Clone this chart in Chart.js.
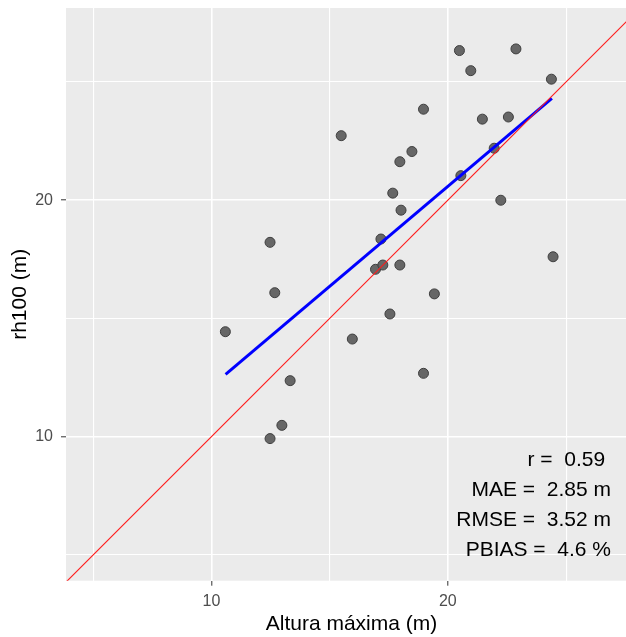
<!DOCTYPE html>
<html>
<head>
<meta charset="utf-8">
<script src="https://cdn.jsdelivr.net/npm/chart.js@4"></script>
<style>
  html, body { margin: 0; padding: 0; background: #fff; overflow: hidden; }
  #wrap { width: 637px; height: 637px; }
</style>
</head>
<body>
<div id="wrap"><canvas id="chart" width="637" height="637"></canvas></div>
<script>
// Observed max height (x) vs GEDI rh100 (y)
const alturaMaxima = [
    12.48, 12.68, 10.59, 13.33, 12.98, 12.48, 15.49, 18.48, 17.97, 17.67,
    18.02, 17.17, 16.94, 17.25, 17.97, 17.55, 19.43, 15.96, 18.97, 20.49,
    22.88, 20.97, 24.38, 21.46, 22.56, 21.96, 20.55, 18.97, 22.24, 24.45
];
const rh100 = [
    18.22, 16.09, 14.44, 12.37, 10.48, 9.92, 22.73, 22.06, 21.63, 20.30,
    19.58, 18.36, 17.08, 17.26, 17.26, 15.19, 16.04, 14.13, 12.68, 26.33,
    26.40, 25.48, 25.12, 23.43, 23.52, 22.20, 21.04, 23.85, 20.00, 17.61
];

// fitted line (ends) and 1:1 line
const fitX = [10.6, 24.4];
const fitY = [12.64, 24.31];
const oneToOne = [0, 40];

// axis ranges, gridlines, labelled ticks
const xRange = [3.85, 28.0];
const yRange = [3.91, 28.13];
const gridBreaks = [5, 10, 15, 20, 25];
const tickLabels = [10, 20];

const statsLines = ['r =  0.59 ', 'MAE =  2.85 m', 'RMSE =  3.52 m', 'PBIAS =  4.6 %'];

const FONT = '"Liberation Sans", Arial, sans-serif';

const panelBg = {
    id: 'panelBg',
    beforeDraw(chart) {
        const a = chart.chartArea;
        const ctx = chart.ctx;
        ctx.save();
        ctx.fillStyle = '#EBEBEB';
        ctx.fillRect(a.left, a.top, a.right - a.left, a.bottom - a.top);
        ctx.restore();
    }
};

const statsText = {
    id: 'statsText',
    afterDraw(chart) {
        const a = chart.chartArea;
        const ctx = chart.ctx;
        ctx.save();
        ctx.font = '21px ' + FONT;
        ctx.fillStyle = '#000';
        ctx.textAlign = 'right';
        ctx.textBaseline = 'alphabetic';
        statsLines.forEach((t, i) => {
            ctx.fillText(t, a.right - 26, a.bottom - 115 + i * 30.2);
        });
        ctx.restore();
    }
};

function gridOpts() {
    return {
        color: '#FFFFFF',
        lineWidth: c => tickLabels.includes(c.tick.value) ? 1.6 : 1.1,
        drawTicks: true,
        tickLength: 5,
        tickColor: c => tickLabels.includes(c.tick.value) ? '#333333' : 'rgba(0,0,0,0)',
        tickWidth: 1
    };
}

function tickOpts(pad) {
    return {
        color: '#4D4D4D',
        font: { family: FONT, size: 16 },
        padding: pad,
        maxRotation: 0,
        autoSkip: false,
        includeBounds: false,
        callback: v => tickLabels.includes(v) ? String(v) : ''
    };
}

const points = alturaMaxima.map((x, i) => ({ x: x, y: rh100[i] }));

new Chart(document.getElementById('chart').getContext('2d'), {
    type: 'scatter',
    data: {
        datasets: [
            {
                type: 'line',
                data: oneToOne.map(v => ({ x: v, y: v })),
                borderColor: '#FF1A1A',
                borderWidth: 1.1,
                pointRadius: 0,
                order: 0
            },
            {
                type: 'line',
                data: fitX.map((x, i) => ({ x: x, y: fitY[i] })),
                borderColor: '#0000FF',
                borderWidth: 3,
                pointRadius: 0,
                order: 1
            },
            {
                data: points,
                backgroundColor: 'rgba(95,95,95,0.95)',
                borderColor: '#3F3F3F',
                borderWidth: 1,
                pointRadius: 5,
                order: 2
            }
        ]
    },
    options: {
        responsive: false,
        animation: false,
        layout: { autoPadding: false, padding: { top: 8, left: 0, right: 0, bottom: 0 } },
        plugins: {
            legend: { display: false },
            tooltip: { enabled: false }
        },
        scales: {
            x: {
                type: 'linear',
                min: xRange[0],
                max: xRange[1],
                afterBuildTicks: s => { s.ticks = gridBreaks.map(v => ({ value: v })); },
                afterFit: s => { s.height = 56.3; s.paddingLeft = 0; s.paddingRight = 0; },
                grid: gridOpts(),
                border: { display: false },
                ticks: tickOpts(6),
                title: {
                    display: true,
                    text: 'Altura máxima (m)',
                    color: '#000',
                    font: { family: FONT, size: 21 },
                    padding: { top: 0, bottom: 0 }
                }
            },
            y: {
                type: 'linear',
                min: yRange[0],
                max: yRange[1],
                afterBuildTicks: s => { s.ticks = gridBreaks.map(v => ({ value: v })); },
                afterFit: s => { s.width = 66; s.paddingTop = 0; s.paddingBottom = 0; },
                grid: gridOpts(),
                border: { display: false },
                ticks: tickOpts(8),
                title: {
                    display: true,
                    text: 'rh100 (m)',
                    color: '#000',
                    font: { family: FONT, size: 21 },
                    padding: { top: 8, bottom: 0 }
                }
            }
        }
    },
    plugins: [panelBg, statsText]
});
</script>
</body>
</html>
